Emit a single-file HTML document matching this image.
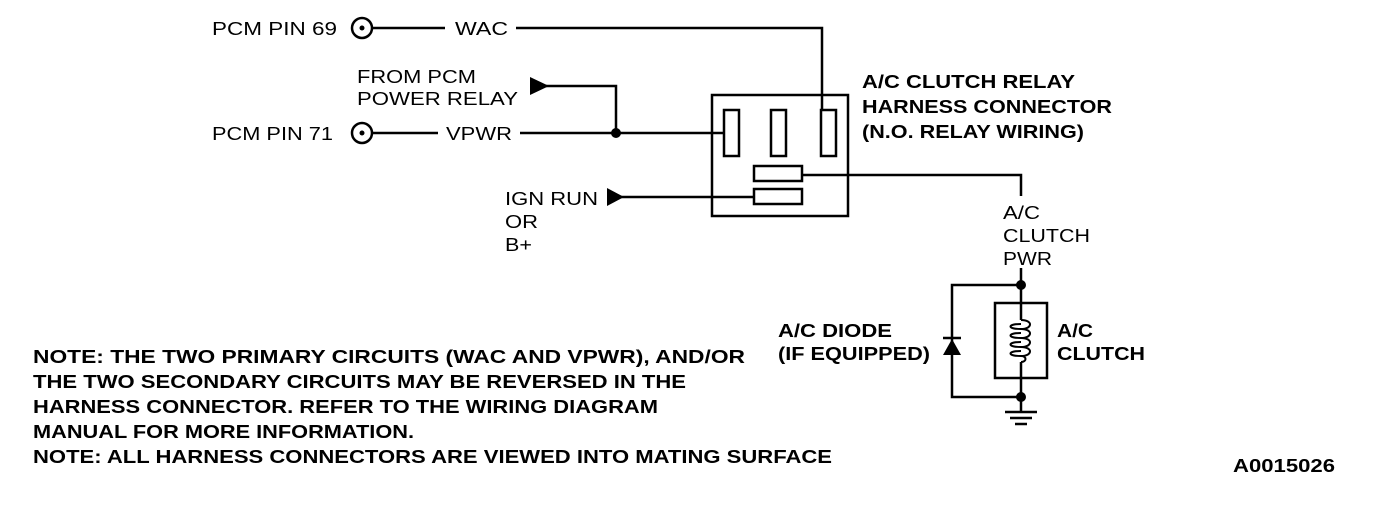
<!DOCTYPE html>
<html><head><style>
body{margin:0;background:#fff;width:1376px;height:512px;overflow:hidden}
svg{display:block}
text{font-family:"Liberation Sans",Arial,sans-serif;fill:#000}
.n{font-size:18px}
.b{font-size:18px;font-weight:bold}
</style></head><body>
<svg width="1376" height="512" viewBox="0 0 1376 512">
<g stroke="#000" stroke-width="2.5" fill="none">
<circle cx="362" cy="28" r="10"/>
<circle cx="362" cy="133" r="10"/>
<line x1="372" y1="28" x2="445" y2="28"/>
<polyline points="516,28 822,28 822,110"/>
<line x1="372" y1="133" x2="438" y2="133"/>
<line x1="520" y1="133" x2="724" y2="133"/>
<polyline points="546,86 616,86 616,133"/>
<line x1="620" y1="197" x2="754" y2="197"/>
<rect x="712" y="95" width="136" height="121"/>
<rect x="724" y="110" width="15" height="46"/>
<rect x="771" y="110" width="15" height="46"/>
<rect x="821" y="110" width="15" height="46"/>
<rect x="754" y="166" width="48" height="15"/>
<rect x="754" y="189" width="48" height="15"/>
<polyline points="802,175 1021,175 1021,196"/>
<line x1="1021" y1="268" x2="1021" y2="303"/>
<polyline points="1021,285 952,285 952,397 1021,397"/>
<rect x="995" y="303" width="52" height="75"/>
<line x1="1021" y1="378" x2="1021" y2="412"/>
<line x1="1021" y1="303" x2="1021" y2="320"/>
<line x1="1021" y1="362" x2="1021" y2="378"/>
<path d="M1021 320 c12 0 12 9 0 9 c-14 0 -14 -5 0 -5 M1021 329 c12 0 12 9 0 9 c-14 0 -14 -5 0 -5 M1021 338 c12 0 12 9 0 9 c-14 0 -14 -5 0 -5 M1021 347 c12 0 12 9 0 9 c-14 0 -14 -5 0 -5 M1021 356 c6 0 6 6 0 6" stroke-width="2"/>
<line x1="1005" y1="412" x2="1037" y2="412"/>
<line x1="1010" y1="418" x2="1032" y2="418"/>
<line x1="1015" y1="424" x2="1027" y2="424"/>
<line x1="943" y1="338" x2="961" y2="338"/>
</g>
<circle cx="362" cy="28" r="2.5"/>
<circle cx="362" cy="133" r="2.5"/>
<circle cx="616" cy="133" r="5"/>
<circle cx="1021" cy="285" r="5"/>
<circle cx="1021" cy="397" r="5"/>
<polygon points="530,77 549,86 530,95"/>
<polygon points="607,188 624,197 607,206"/>
<polygon points="952,339 943,355 961,355"/>
<g lengthAdjust="spacingAndGlyphs">
<text class="n" x="212" y="35" textLength="125" lengthAdjust="spacingAndGlyphs">PCM PIN 69</text>
<text class="n" x="455" y="35" textLength="53" lengthAdjust="spacingAndGlyphs">WAC</text>
<text class="n" x="357" y="83" textLength="119" lengthAdjust="spacingAndGlyphs">FROM PCM</text>
<text class="n" x="357" y="105" textLength="161" lengthAdjust="spacingAndGlyphs">POWER RELAY</text>
<text class="n" x="212" y="140" textLength="121" lengthAdjust="spacingAndGlyphs">PCM PIN 71</text>
<text class="n" x="446" y="140" textLength="66" lengthAdjust="spacingAndGlyphs">VPWR</text>
<text class="n" x="505" y="205" textLength="93" lengthAdjust="spacingAndGlyphs">IGN RUN</text>
<text class="n" x="505" y="228" textLength="33" lengthAdjust="spacingAndGlyphs">OR</text>
<text class="n" x="505" y="251" textLength="27" lengthAdjust="spacingAndGlyphs">B+</text>
<text class="b" x="862" y="88" textLength="213" lengthAdjust="spacingAndGlyphs">A/C CLUTCH RELAY</text>
<text class="b" x="862" y="113" textLength="250" lengthAdjust="spacingAndGlyphs">HARNESS CONNECTOR</text>
<text class="b" x="862" y="138" textLength="222" lengthAdjust="spacingAndGlyphs">(N.O. RELAY WIRING)</text>
<text class="n" x="1003" y="219" textLength="37" lengthAdjust="spacingAndGlyphs">A/C</text>
<text class="n" x="1003" y="242" textLength="87" lengthAdjust="spacingAndGlyphs">CLUTCH</text>
<text class="n" x="1003" y="265" textLength="49" lengthAdjust="spacingAndGlyphs">PWR</text>
<text class="b" x="778" y="337" textLength="114" lengthAdjust="spacingAndGlyphs">A/C DIODE</text>
<text class="b" x="778" y="360" textLength="152" lengthAdjust="spacingAndGlyphs">(IF EQUIPPED)</text>
<text class="b" x="1057" y="337" textLength="36" lengthAdjust="spacingAndGlyphs">A/C</text>
<text class="b" x="1057" y="360" textLength="88" lengthAdjust="spacingAndGlyphs">CLUTCH</text>
<text class="b" x="33" y="363" textLength="712" lengthAdjust="spacingAndGlyphs">NOTE: THE TWO PRIMARY CIRCUITS (WAC AND VPWR), AND/OR</text>
<text class="b" x="33" y="388" textLength="653" lengthAdjust="spacingAndGlyphs">THE TWO SECONDARY CIRCUITS MAY BE REVERSED IN THE</text>
<text class="b" x="33" y="413" textLength="625" lengthAdjust="spacingAndGlyphs">HARNESS CONNECTOR. REFER TO THE WIRING DIAGRAM</text>
<text class="b" x="33" y="438" textLength="381" lengthAdjust="spacingAndGlyphs">MANUAL FOR MORE INFORMATION.</text>
<text class="b" x="33" y="463" textLength="799" lengthAdjust="spacingAndGlyphs">NOTE: ALL HARNESS CONNECTORS ARE VIEWED INTO MATING SURFACE</text>
<text class="b" x="1233" y="472" textLength="102" lengthAdjust="spacingAndGlyphs">A0015026</text>
</g>
</svg>
</body></html>
